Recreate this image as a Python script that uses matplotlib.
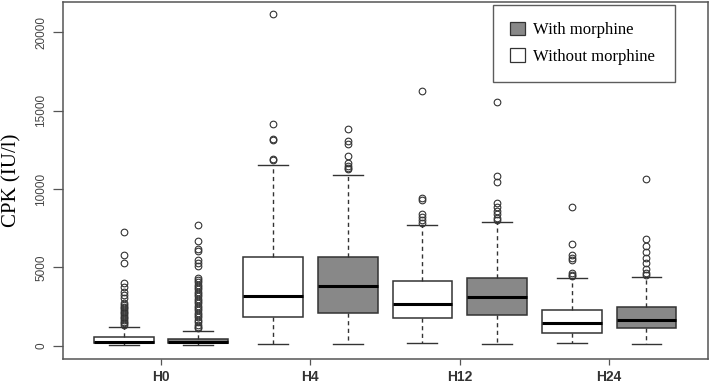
import matplotlib as mpl
mpl.use('Agg')
import matplotlib.pyplot as plt
from matplotlib.patches import Patch

# time points
groups = ['H0', 'H4', 'H12', 'H24']

# five-number summaries: (low whisker, q1, median, q3, high whisker)
without_stats = [
    (60, 150, 230, 580, 1220),
    (90, 1810, 3190, 5680, 11530),
    (150, 1750, 2660, 4150, 7700),
    (150, 830, 1450, 2260, 4300),
]
with_stats = [
    (60, 150, 240, 450, 920),
    (90, 2070, 3810, 5680, 10870),
    (90, 1940, 3110, 4340, 7910),
    (90, 1150, 1640, 2450, 4380),
]

without_fliers = [
    [7240, 5790, 5260, 3980, 3730, 3450, 3240, 3030, 2710, 2600, 2500, 2380, 2280,
     2170, 2060, 1960, 1850, 1750, 1640, 1530, 1430, 1320],
    [21170, 14130, 13200, 13120, 11900, 11850],
    [16270, 9440, 9300, 8390, 8230, 8020, 7850],
    [8870, 6510, 5790, 5620, 5470, 4660, 4510, 4450],
]
with_fliers = [
    [7690, 6700, 6150, 6040, 5470, 5260, 5090, 4340, 4200, 4050, 3900, 3750, 3600,
     3450, 3300, 3150, 3000, 2850, 2700, 2550, 2400, 2250, 2100, 1950, 1800, 1650,
     1500, 1350, 1200, 1100],
    [13810, 13080, 12850, 12120, 11640, 11490, 11360, 11250],
    [15570, 10850, 10450, 9130, 8870, 8620, 8390, 8170, 8020],
    [10640, 6790, 6360, 5980, 5620, 5260, 4910, 4620, 4490],
]

line_c = '#333333'
gray = '#888888'


def make_stats(summary, fliers):
    out = []
    for (lo, q1, med, q3, hi), fl in zip(summary, fliers):
        out.append(dict(whislo=lo, q1=q1, med=med, q3=q3, whishi=hi, fliers=fl))
    return out


fig = plt.figure(figsize=(7.09, 3.84), dpi=100)
ax = fig.add_axes([0.0884, 0.0664, 0.9096, 0.9284])

x = list(range(1, len(groups) + 1))
common = dict(widths=0.40, capwidths=0.20, patch_artist=True,
              whiskerprops=dict(color=line_c, linestyle=(0, (3, 2.5)), linewidth=1.0),
              capprops=dict(color=line_c, linewidth=1.0),
              medianprops=dict(color='black', linewidth=2.2, solid_capstyle='butt'),
              flierprops=dict(marker='o', markersize=4.8, markerfacecolor='none',
                              markeredgecolor=line_c, markeredgewidth=0.8, linestyle='none'))

ax.bxp(make_stats(without_stats, without_fliers), positions=[p - 0.25 for p in x],
       boxprops=dict(facecolor='white', edgecolor=line_c, linewidth=1.1), **common)
ax.bxp(make_stats(with_stats, with_fliers), positions=[p + 0.25 for p in x],
       boxprops=dict(facecolor=gray, edgecolor=line_c, linewidth=1.1), **common)

ax.set_xlim(0.342, 4.659)
ax.set_ylim(-817, 21935)
ax.set_xticks(x)
ax.set_xticklabels(groups, family='Liberation Sans', fontweight='bold', fontsize=10, color='#333333')
ax.set_yticks([0, 5000, 10000, 15000, 20000])
ax.set_yticklabels(['0', '5000', '10000', '15000', '20000'], family='Liberation Sans',
                   fontsize=8.5, rotation=90, va='center', color='#444444')
ax.tick_params(axis='y', length=7, width=0.9, color='#555555', pad=4)
ax.tick_params(axis='x', length=4.5, width=0.9, color='#555555', pad=4)

for s in ax.spines.values():
    s.set_color('#555555')
    s.set_linewidth(1.1)

ax.set_ylabel('CPK (IU/l)', family='Liberation Serif', fontsize=15, va='center')
ax.yaxis.set_label_coords(-0.079, 0.5)

handles = [Patch(facecolor=gray, edgecolor=line_c, linewidth=0.9, label='With morphine'),
           Patch(facecolor='white', edgecolor=line_c, linewidth=0.9, label='Without morphine')]
leg = ax.legend(handles=handles, loc='upper left', mode='expand',
                bbox_to_anchor=(0.668, 0.70, 0.282, 0.292),
                prop=dict(family='Liberation Serif', size=12),
                frameon=True, fancybox=False, edgecolor=line_c, borderpad=1.0,
                handlelength=0.9, handleheight=0.9, handletextpad=0.5, labelspacing=0.6,
                borderaxespad=0)
leg.get_frame().set_linewidth(1.0)

plt.savefig('out.png', dpi=100)
